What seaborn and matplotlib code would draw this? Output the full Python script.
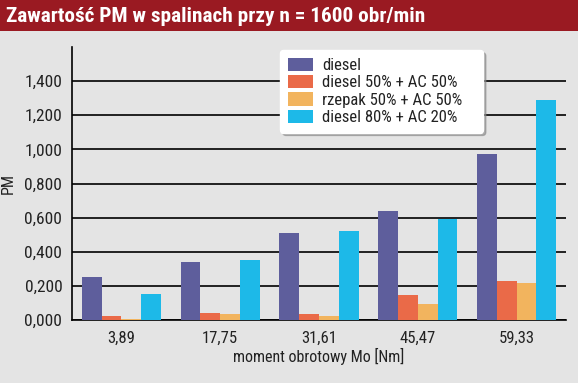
import matplotlib
matplotlib.use("Agg")
import matplotlib.pyplot as plt
from matplotlib.patches import Rectangle
import seaborn as sns
import pandas as pd
import numpy as np

categories = ["3,89", "17,75", "31,61", "45,47", "59,33"]
series = ["diesel", "diesel 50% + AC 50%", "rzepak 50% + AC 50%", "diesel 80% + AC 20%"]
diesel = [0.25, 0.34, 0.51, 0.64, 0.97]
diesel50 = [0.024, 0.043, 0.037, 0.149, 0.229]
rzepak50 = [0.008, 0.035, 0.025, 0.096, 0.214]
diesel80 = [0.15, 0.35, 0.52, 0.59, 1.29]
ytick_vals = [0.0, 0.2, 0.4, 0.6, 0.8, 1.0, 1.2, 1.4, 1.6]
ytick_labels = ["0,000", "0,200", "0,400", "0,600", "0,800", "1,000", "1,200", "1,400", ""]
colors = ["#5E5E9C", "#EA6A48", "#F2B45E", "#1DB9E8"]

rows = []
for s, vals in zip(series, [diesel, diesel50, rzepak50, diesel80]):
    for c, v in zip(categories, vals):
        rows.append({"Mo": c, "seria": s, "PM": v})
df = pd.DataFrame(rows)

sns.set_style("white")
plt.rcParams['font.family'] = ['Roboto Condensed', 'DejaVu Sans']
FS = 11.5

W, H = 578, 383
fig = plt.figure(figsize=(W / 100, H / 100), dpi=100, facecolor="#E4E4E4")
fig.patches.append(Rectangle((0, 1 - 31 / H), 1, 31 / H, transform=fig.transFigure,
                             facecolor="#9A1A22", edgecolor="none", zorder=0))
fig.text(6 / W, 1 - 16 / H, "Zawartość PM w spalinach przy n = 1600 obr/min",
         color="white", fontsize=15.3, fontweight="bold", va="center", ha="left")

ax = fig.add_axes([72 / W, 1 - 320 / H, (566 - 72) / W, (320 - 47) / H])
ax.set_facecolor("#E4E4E4")
sns.barplot(data=df, x="Mo", y="PM", hue="seria", hue_order=series, order=categories,
            palette=colors, width=0.8, saturation=1, ax=ax, edgecolor="none", zorder=3)

ax.set_xlim(-0.5, 4.5)
ax.set_ylim(0, 1.6)
ax.set_yticks(ytick_vals)
ax.set_yticklabels(ytick_labels, fontsize=12.5, color="#222222")
ax.set_xticks(range(len(categories)))
ax.set_xticklabels(categories, fontsize=FS + 0.5, color="#222222")
ax.tick_params(axis="x", which="major", length=0, pad=8)
ax.set_xticks(np.arange(-0.5, 5, 1), minor=True)
ax.tick_params(axis="x", which="minor", length=5, width=1.2, color="black", direction="out")
ax.tick_params(axis="y", length=5, width=1.2, color="black", direction="out", pad=2)
ax.yaxis.grid(True, color="black", linewidth=1.2, zorder=1)
ax.set_axisbelow(True)
ax.get_ygridlines()[-1].set_visible(False)
for sp in ["top", "right"]:
    ax.spines[sp].set_visible(False)
for sp in ["left", "bottom"]:
    ax.spines[sp].set_color("black")
    ax.spines[sp].set_linewidth(1.2)

ax.set_ylabel("PM", fontsize=FS, labelpad=6, color="#222222")
ax.set_xlabel("moment obrotowy Mo [Nm]", fontsize=FS, labelpad=1, color="#222222")

lx = (280 - 72) / (566 - 72)
lw = (483 - 280) / (566 - 72)
ly = (320 - 50) / (320 - 47)
leg = ax.legend(loc="upper left", bbox_to_anchor=(lx, ly, lw, 0.0), mode="expand",
                fontsize=12, frameon=True, fancybox=True, shadow={"color": "#888888", "alpha": 0.6},
                handlelength=1.5, handleheight=0.85, handletextpad=0.6,
                labelspacing=0.12, borderpad=0.45, borderaxespad=0, title=None)
leg.get_frame().set_facecolor("white")
leg.get_frame().set_edgecolor("white")
leg.get_frame().set_alpha(1)
leg.set_zorder(10)
for t in leg.get_texts():
    t.set_color("#222222")

fig.savefig("out.png", dpi=100, facecolor=fig.get_facecolor())
